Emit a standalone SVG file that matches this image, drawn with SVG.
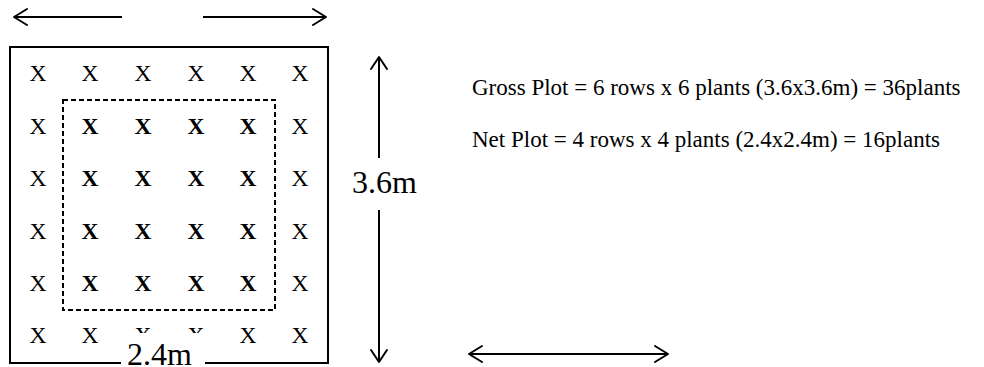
<svg xmlns="http://www.w3.org/2000/svg" width="984" height="367" viewBox="0 0 984 367">
<style>
.ln{stroke:#000;stroke-width:2;fill:none}
.ah{stroke:#000;stroke-width:2;fill:none;stroke-linecap:round;stroke-linejoin:round}
.x{font-family:"Liberation Serif","Times New Roman",serif;font-size:23.5px;fill:#000;text-anchor:middle}
.xb{font-weight:bold}
.t{font-family:"Liberation Serif","Times New Roman",serif;font-size:23px;fill:#000}
.big{font-family:"Liberation Serif","Times New Roman",serif;font-size:32px;fill:#000}
</style>
<defs>
<clipPath id="cut"><rect x="0" y="0" width="984" height="333"/></clipPath>
</defs>
<rect width="984" height="367" fill="#fff"/>
<g id="gross-plot">
<rect x="10" y="47" width="318" height="316" class="ln"/>
</g>
<g id="net-plot">
<rect x="63" y="100" width="212" height="210" fill="none" stroke="#000" stroke-width="2" stroke-dasharray="5,3"/>
</g>
<g id="plants">
<text class="x" x="38" y="81">X</text><text class="x" x="90" y="81">X</text><text class="x" x="143" y="81">X</text><text class="x" x="196" y="81">X</text><text class="x" x="248" y="81">X</text><text class="x" x="300" y="81">X</text>
<text class="x" x="38" y="134">X</text><text class="x xb" x="90" y="134">X</text><text class="x xb" x="143" y="134">X</text><text class="x xb" x="196" y="134">X</text><text class="x xb" x="248" y="134">X</text><text class="x" x="300" y="134">X</text>
<text class="x" x="38" y="186">X</text><text class="x xb" x="90" y="186">X</text><text class="x xb" x="143" y="186">X</text><text class="x xb" x="196" y="186">X</text><text class="x xb" x="248" y="186">X</text><text class="x" x="300" y="186">X</text>
<text class="x" x="38" y="239">X</text><text class="x xb" x="90" y="239">X</text><text class="x xb" x="143" y="239">X</text><text class="x xb" x="196" y="239">X</text><text class="x xb" x="248" y="239">X</text><text class="x" x="300" y="239">X</text>
<text class="x" x="38" y="291">X</text><text class="x xb" x="90" y="291">X</text><text class="x xb" x="143" y="291">X</text><text class="x xb" x="196" y="291">X</text><text class="x xb" x="248" y="291">X</text><text class="x" x="300" y="291">X</text>
<text class="x" x="38" y="343">X</text><text class="x" x="90" y="343">X</text><text class="x" x="143" y="343" clip-path="url(#cut)">X</text><text class="x" x="196" y="343" clip-path="url(#cut)">X</text><text class="x" x="248" y="343">X</text><text class="x" x="300" y="343">X</text>
</g>
<g id="width-label">
<rect x="121" y="333" width="84" height="34" fill="#fff"/>
<text class="big" x="127" y="365">2.4m</text>
</g>
<g id="connectors">
<line x1="14" y1="17" x2="122" y2="17" class="ln"/>
<polyline points="27,9 14,17 27,25" class="ah"/>
<line x1="203" y1="17" x2="326" y2="17" class="ln"/>
<polyline points="313,9 326,17 313,25" class="ah"/>
<line x1="379" y1="57" x2="379" y2="158" class="ln"/>
<polyline points="371,69 379,57 387,69" class="ah"/>
<line x1="379" y1="210" x2="379" y2="362" class="ln"/>
<polyline points="371,350 379,362 387,350" class="ah"/>
<line x1="469" y1="354" x2="668" y2="354" class="ln"/>
<polyline points="482,346 469,354 482,362" class="ah"/>
<polyline points="655,346 668,354 655,362" class="ah"/>
</g>
<g id="height-label">
<text class="big" x="352" y="193">3.6m</text>
</g>
<g id="legend">
<text class="t" x="472" y="95">Gross Plot = 6 rows x 6 plants (3.6x3.6m) = 36plants</text>
<text class="t" x="472" y="147">Net Plot = 4 rows x 4 plants (2.4x2.4m) = 16plants</text>
</g>
</svg>
